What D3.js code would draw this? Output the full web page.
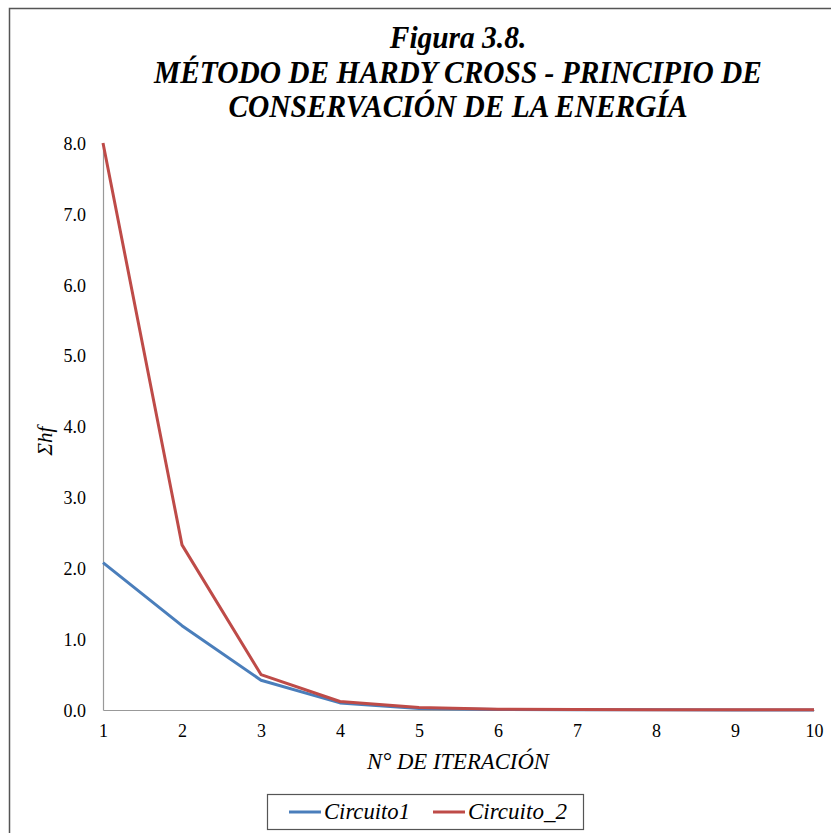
<!DOCTYPE html>
<html><head><meta charset="utf-8"><script src="https://cdn.jsdelivr.net/npm/d3@7"></script></head>
<body style="margin:0">
<svg width="831" height="833"></svg>
<script>
// data
var iterations = [1, 2, 3, 4, 5, 6, 7, 8, 9, 10];
var circuito1 = [2.08, 1.19, 0.42, 0.10, 0.02, 0.008, 0.004, 0.002, 0.001, 0.001];
var circuito2 = [8.0, 2.33, 0.50, 0.12, 0.035, 0.012, 0.006, 0.004, 0.002, 0.002];
var yTicks = [0, 1, 2, 3, 4, 5, 6, 7, 8];
var seriesNames = ['Circuito1', 'Circuito_2'];
var seriesColors = ['#4a7ebb', '#be4b48'];
var titleLines = ['Figura 3.8.', 'MÉTODO DE HARDY CROSS - PRINCIPIO DE', 'CONSERVACIÓN DE LA ENERGÍA'];

var svg = d3.select('svg');
var serif = 'Liberation Serif';

// fit a text to a width, whatever font the browser ends up using
function fitWidth(sel, width) {
	var fs = +sel.attr('font-size');
	var w = sel.node().getComputedTextLength();
	if (w > 0) sel.attr('font-size', fs * width / w);
	return sel;
}

// outer frame (right side is cut off in the original)
svg.append('path')
	.attr('d', 'M831,8.5 H9.5 V833')
	.attr('fill', 'none')
	.attr('stroke', '#555')
	.attr('stroke-width', 1.5);

// title
var title = svg.append('g').selectAll('text')
	.data(titleLines)
	.enter().append('text')
	.attr('font-size', 28)
	.attr('font-style', 'italic')
	.attr('font-weight', 'bold')
	.attr('font-family', serif)
	.attr('text-anchor', 'middle')
	.text(function(d) { return d; });
fitWidth(d3.select(title.nodes()[1]), 608);
title.attr('font-size', d3.select(title.nodes()[1]).attr('font-size'))
	.attr('transform', function(d, i) {
		return 'translate(458,' + (48 + i * 34.5) + ') scale(1,1.08)';
	});

var x = d3.scaleLinear().domain([1, 10]).range([103, 814]);
var y = d3.scaleLinear().domain([0, 8]).range([710, 143]);

// y axis
var yAxis = svg.append('g')
	.attr('transform', 'translate(103,0)')
	.call(d3.axisLeft(y).tickValues(yTicks).tickSize(0).tickPadding(17)
		.tickFormat(d3.format('.1f')))
	.attr('font-family', serif)
	.attr('font-size', 18);
yAxis.select('.domain').attr('stroke', '#999').attr('stroke-width', 1.2);
yAxis.selectAll('text').attr('fill', '#000').attr('dy', '0.35em');

// x axis
var xAxis = svg.append('g')
	.attr('transform', 'translate(0,710)')
	.call(d3.axisBottom(x).tickValues(iterations).tickSize(0).tickPadding(14)
		.tickFormat(d3.format('d')))
	.attr('font-family', serif)
	.attr('font-size', 18);
xAxis.select('.domain').attr('stroke', '#999').attr('stroke-width', 1.2);
xAxis.selectAll('text').attr('fill', '#000');

// axis titles
fitWidth(svg.append('text')
	.attr('x', 458)
	.attr('y', 769)
	.attr('font-size', 21)
	.attr('font-style', 'italic')
	.attr('font-family', serif)
	.attr('text-anchor', 'middle')
	.text('N° DE ITERACIÓN'), 182);

svg.append('text')
	.attr('transform', 'translate(52,441) rotate(-90)')
	.attr('font-size', 21)
	.attr('font-style', 'italic')
	.attr('font-family', serif)
	.attr('text-anchor', 'middle')
	.text('Σhf');

// lines
var line = d3.line()
	.x(function(d, i) { return x(iterations[i]); })
	.y(function(d) { return y(d); });

[circuito1, circuito2].forEach(function(s, k) {
	svg.append('path')
		.datum(s)
		.attr('fill', 'none')
		.attr('stroke', seriesColors[k])
		.attr('stroke-width', 3)
		.attr('stroke-linejoin', 'round')
		.attr('d', line);
});

// legend
var lg = svg.append('g');
lg.append('rect')
	.attr('x', 267.5).attr('y', 794.5)
	.attr('width', 316).attr('height', 35)
	.attr('fill', '#fff')
	.attr('stroke', '#555')
	.attr('stroke-width', 1.2);
var legendX = [289, 433];
var legendW = [86, 99];
seriesNames.forEach(function(name, k) {
	lg.append('line')
		.attr('x1', legendX[k]).attr('x2', legendX[k] + 32)
		.attr('y1', 812).attr('y2', 812)
		.attr('stroke', seriesColors[k])
		.attr('stroke-width', 3);
	fitWidth(lg.append('text')
		.attr('x', legendX[k] + 35)
		.attr('y', 819)
		.attr('font-size', 21)
		.attr('font-style', 'italic')
		.attr('font-family', serif)
		.text(name), legendW[k]);
});
</script>
</body>
</html>
